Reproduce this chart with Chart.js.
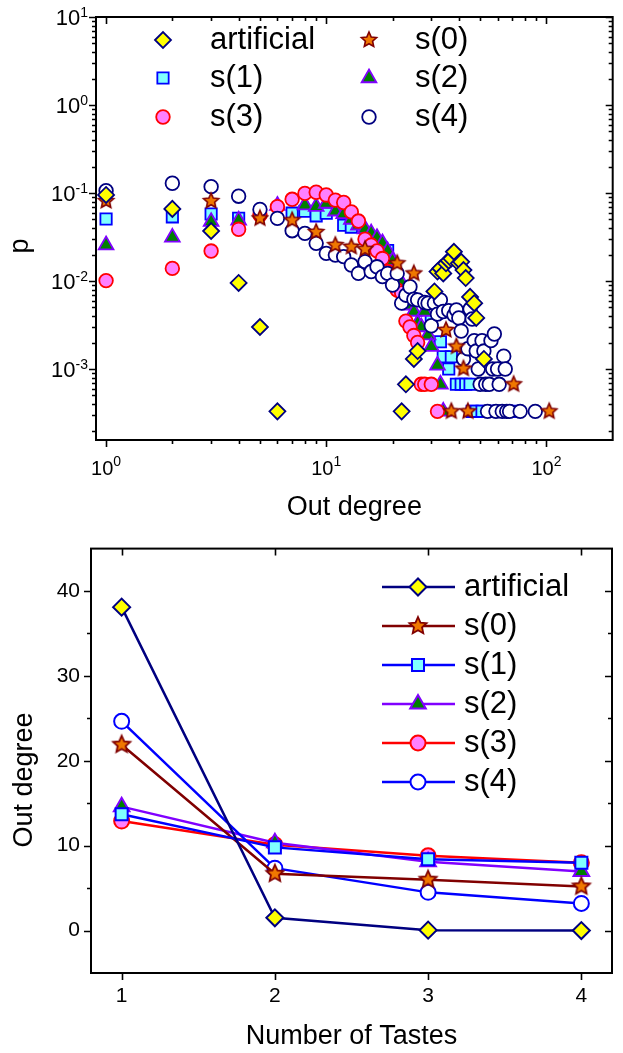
<!DOCTYPE html>
<html lang="en">
<head>
<meta charset="UTF-8">
<title>Out degree distributions</title>
<script src="https://cdn.jsdelivr.net/npm/chart.js@4.4.1/dist/chart.umd.min.js"></script>
<style>
  html, body { margin: 0; padding: 0; background: #fff; }
  body { width: 623px; height: 1053px; position: relative; overflow: hidden; }
  canvas { position: absolute; left: 0; }
  #topChart { top: 0; }
  #bottomChart { top: 525px; }
</style>
</head>
<body>
<canvas id="topChart" width="623" height="525"></canvas>
<canvas id="bottomChart" width="623" height="528"></canvas>
<script>
// ---- top panel: out-degree distribution p(k), log-log ----
const artificialK = [1, 2, 3, 4, 5, 6, 22, 23, 25, 26, 31, 32, 33, 34, 35, 36, 37, 38, 40, 41, 42, 43, 45, 47, 48, 52];
const artificialP = [0.095, 0.066, 0.037, 0.0095, 0.003, 0.00033, 0.00033, 0.00067, 0.0013, 0.0016, 0.0076, 0.0128, 0.0139, 0.0122, 0.0159, 0.017, 0.018, 0.0215, 0.0159, 0.0165, 0.0133, 0.0108, 0.0066, 0.0056, 0.0038, 0.0013];

const s0K = [1, 3, 5, 7, 9, 11, 13, 15, 21, 25, 35, 37, 39, 42, 44, 71, 103];
const s0P = [0.081, 0.081, 0.0515, 0.049, 0.036, 0.0256, 0.0245, 0.023, 0.0159, 0.0122, 0.00277, 0.00033, 0.0018, 0.00101, 0.00033, 0.00067, 0.00033];

const s1K = [1, 2, 3, 4, 7, 8, 9, 10, 12, 13, 19, 30, 33, 34, 36, 37, 39, 41, 43, 45, 46, 48, 51, 55, 59, 62, 66, 70];
const s1P = [0.0507, 0.0536, 0.0577, 0.0515, 0.059, 0.062, 0.055, 0.059, 0.043, 0.041, 0.0222, 0.0038, 0.00204, 0.00138, 0.001, 0.00138, 0.00067, 0.00067, 0.00067, 0.00067, 0.00033, 0.00033, 0.00033, 0.00033, 0.00033, 0.00033, 0.00033, 0.00033];

const s2K = [1, 2, 3, 4, 6, 8, 9, 10, 11, 12, 13, 14, 15, 16, 17, 18, 19, 20, 22, 24, 25, 26, 27, 28, 29, 30, 32, 33, 34];
const s2P = [0.0256, 0.0313, 0.0472, 0.049, 0.072, 0.073, 0.07, 0.076, 0.062, 0.058, 0.05, 0.043, 0.039, 0.035, 0.031, 0.027, 0.022, 0.017, 0.0095, 0.0053, 0.0045, 0.0033, 0.003, 0.0045, 0.00243, 0.0018, 0.0011, 0.00067, 0.00033];

const s3K = [1, 2, 3, 4, 5, 6, 7, 8, 9, 10, 11, 12, 13, 14, 15, 16, 17, 18, 19, 20, 21, 22, 23, 24, 25, 26, 27, 28, 30, 32];
const s3P = [0.0101, 0.0139, 0.0219, 0.0387, 0.0563, 0.07, 0.0848, 0.099, 0.102, 0.095, 0.083, 0.078, 0.061, 0.048, 0.0298, 0.0256, 0.022, 0.018, 0.0128, 0.0112, 0.0079, 0.0073, 0.0035, 0.003, 0.0024, 0.002, 0.00067, 0.00067, 0.00067, 0.00033];

const s4K = [1, 2, 3, 4, 5, 6, 7, 8, 9, 10, 11, 12, 13, 14, 15, 16, 17, 18, 19, 20, 21, 22, 23, 24, 25, 26, 28, 29, 30, 31, 32, 33, 34, 36, 38, 39, 40, 41, 42, 44, 45, 46, 47, 48, 49, 50, 51, 52, 53, 54, 55, 56, 57, 58, 59, 60, 61, 63, 64, 65, 66, 68, 76, 89];
const s4P = [0.106, 0.129, 0.118, 0.092, 0.065, 0.0515, 0.0373, 0.0348, 0.0268, 0.0206, 0.0197, 0.0189, 0.0152, 0.0122, 0.0166, 0.0128, 0.0145, 0.0112, 0.0122, 0.009, 0.0122, 0.0056, 0.0069, 0.0086, 0.0062, 0.0061, 0.0057, 0.0056, 0.0031, 0.0056, 0.0042, 0.0061, 0.0045, 0.0046, 0.0041, 0.0047, 0.0038, 0.0027, 0.0013, 0.0017, 0.0048, 0.0037, 0.0021, 0.0016, 0.001, 0.00067, 0.0021, 0.0016, 0.00067, 0.00033, 0.00067, 0.0021, 0.001, 0.0025, 0.00033, 0.001, 0.00067, 0.00033, 0.0014, 0.001, 0.00033, 0.00033, 0.00033, 0.00033];

const kTickExps = [0, 1, 2];
const pTickExps = [1, 0, -1, -2, -3];

// ---- bottom panel: out degree vs number of tastes ----
const tastes = [1, 2, 3, 4];
const artificialDeg = [38.1, 1.5, 0.05, 0.0];
const s0Deg = [21.9, 6.7, 6.0, 5.2];
const s1Deg = [13.7, 9.8, 8.4, 8.0];
const s2Deg = [14.6, 10.35, 8.1, 6.95];
const s3Deg = [12.9, 10.1, 8.8, 8.0];
const s4Deg = [24.65, 7.35, 4.5, 3.2];

const degTicks = [0, 10, 20, 30, 40];
const degMinor = [5, 15, 25, 35];
const tasteTicks = [1, 2, 3, 4];

const FONT = '"Liberation Sans", Arial, Helvetica, sans-serif';
Chart.defaults.font.family = FONT;
Chart.defaults.color = '#000';

const pts = (xs, ys) => xs.map((x, i) => ({ x: x, y: ys[i] }));

// filled five point star, used as an image point style
function starImage(r, fill, stroke, lw) {
  const pad = 3;
  const c = document.createElement('canvas');
  c.width = c.height = 2 * (r + pad);
  const g = c.getContext('2d');
  const cx = r + pad;
  g.beginPath();
  for (let i = 0; i < 10; i++) {
    const rr = i % 2 ? r * 0.47 : r;
    const a = -Math.PI / 2 + i * Math.PI / 5;
    g.lineTo(cx + rr * Math.cos(a), cx + rr * Math.sin(a));
  }
  g.closePath();
  g.fillStyle = fill;
  g.fill();
  g.lineWidth = lw;
  g.strokeStyle = stroke;
  g.stroke();
  return c;
}

function logMinor(min, max, e0, e1) {
  const out = [];
  for (let e = e0; e <= e1; e++) {
    for (let d = 2; d <= 9; d++) {
      const v = d * Math.pow(10, e);
      if (v > min && v < max) out.push(v);
    }
  }
  return out;
}

function powLabel(ctx, exp, x, base, align, big, small, shift) {
  const sup = String(exp);
  ctx.font = big + 'px ' + FONT;
  const wb = ctx.measureText('10').width;
  ctx.font = small + 'px ' + FONT;
  const ws = ctx.measureText(sup).width;
  const x0 = align === 'right' ? x - wb - ws : x - (wb + ws) / 2;
  ctx.textAlign = 'left';
  ctx.textBaseline = 'alphabetic';
  ctx.font = big + 'px ' + FONT;
  ctx.fillText('10', x0, base);
  ctx.font = small + 'px ' + FONT;
  ctx.fillText(sup, x0 + wb, base - shift);
}

// box frame, inward/outward ticks, log labels, rotated y title
const frameTicks = {
  id: 'frameTicks',
  afterDraw(chart, args, o) {
    const { ctx, chartArea: a } = chart;
    const xs = chart.scales.x, ys = chart.scales.y;
    ctx.save();
    ctx.strokeStyle = '#000';
    ctx.lineWidth = 1.6;
    ctx.beginPath();
    const seg = (x1, y1, x2, y2) => { ctx.moveTo(x1, y1); ctx.lineTo(x2, y2); };
    const xt = (list, len) => list.forEach(v => {
      const p = Math.round(xs.getPixelForValue(v)) + 0.5;
      seg(p, a.bottom, p, a.bottom + len);
      seg(p, a.top, p, a.top + len);
    });
    const yt = (list, len) => list.forEach(v => {
      const p = Math.round(ys.getPixelForValue(v)) + 0.5;
      seg(a.left - len, p, a.left, p);
      seg(a.right - len, p, a.right, p);
    });
    xt(o.xMajor, 7); xt(o.xMinor, 4);
    yt(o.yMajor, 7); yt(o.yMinor, 4);
    ctx.stroke();
    ctx.lineWidth = 2;
    ctx.strokeRect(a.left, a.top, a.right - a.left, a.bottom - a.top);

    ctx.fillStyle = '#000';
    if (o.logLabels) {
      pTickExps.forEach(e => {
        const py = ys.getPixelForValue(Math.pow(10, e));
        powLabel(ctx, e, 88, py + 7.8, 'right', 22, 14, 8);
      });
      kTickExps.forEach(e => {
        const px = xs.getPixelForValue(Math.pow(10, e));
        powLabel(ctx, e, px, 475, 'center', 20, 14, 9);
      });
    }
    if (o.yTitle) {
      ctx.translate(o.yTitle.x, o.yTitle.y);
      ctx.rotate(-Math.PI / 2);
      ctx.textAlign = 'center';
      ctx.textBaseline = 'middle';
      ctx.font = '27px ' + FONT;
      ctx.fillText(o.yTitle.text, 0, 0);
    }
    ctx.restore();
  }
};

// legend drawn inside the plot, markers taken from the datasets
const boxLegend = {
  id: 'boxLegend',
  afterDraw(chart, args, o) {
    const ctx = chart.ctx;
    ctx.save();
    o.items.forEach(it => {
      const ds = chart.data.datasets[it.i];
      if (o.lines) {
        ctx.strokeStyle = ds.borderColor;
        ctx.lineWidth = ds.borderWidth;
        ctx.beginPath();
        ctx.moveTo(it.mx - 36, it.y);
        ctx.lineTo(it.mx + 37, it.y);
        ctx.stroke();
      }
      ctx.fillStyle = ds.backgroundColor;
      ctx.strokeStyle = ds.pointBorderColor || ds.borderColor;
      ctx.lineWidth = ds.pointBorderWidth;
      Chart.helpers.drawPoint(ctx, {
        pointStyle: ds.pointStyle, radius: ds.pointRadius, rotation: 0, borderWidth: ds.pointBorderWidth
      }, it.mx, it.y);
      ctx.fillStyle = '#000';
      ctx.font = '31px ' + FONT;
      ctx.textAlign = 'left';
      ctx.textBaseline = 'middle';
      ctx.fillText(ds.label, it.tx, it.y);
    });
    ctx.restore();
  }
};

const NAVY = '#000080', YELLOW = '#FFFF00', DARKRED = '#800000', ORANGE = '#F07800';
const BLUE = '#0000FF', CYAN = '#80FFFF', PURPLE = '#8000FF', GREEN = '#008000';
const RED = '#FF0000', PINK = '#FF80FF';

// ---------------- top chart ----------------
new Chart(document.getElementById('topChart'), {
  type: 'scatter',
  data: {
    datasets: [
      { label: 'artificial', data: pts(artificialK, artificialP), pointStyle: 'rectRot', pointRadius: 8,
        backgroundColor: YELLOW, borderColor: NAVY, pointBorderWidth: 1.8, order: 0 },
      { label: 's(0)', data: pts(s0K, s0P), pointStyle: starImage(8, ORANGE, DARKRED, 1.6), pointRadius: 8,
        backgroundColor: ORANGE, borderColor: DARKRED, pointBorderWidth: 1.6, order: 1 },
      { label: 's(1)', data: pts(s1K, s1P), pointStyle: 'rect', pointRadius: 8,
        backgroundColor: CYAN, borderColor: BLUE, pointBorderWidth: 1.8, order: 5 },
      { label: 's(2)', data: pts(s2K, s2P), pointStyle: 'triangle', pointRadius: 8.5,
        backgroundColor: GREEN, borderColor: PURPLE, pointBorderWidth: 1.8, order: 4 },
      { label: 's(3)', data: pts(s3K, s3P), pointStyle: 'circle', pointRadius: 6.8,
        backgroundColor: PINK, borderColor: RED, pointBorderWidth: 1.8, order: 3 },
      { label: 's(4)', data: pts(s4K, s4P), pointStyle: 'circle', pointRadius: 6.8,
        backgroundColor: '#FFFFFF', borderColor: NAVY, pointBorderWidth: 1.8, order: 2 }
    ]
  },
  options: {
    responsive: false,
    animation: false,
    devicePixelRatio: 1,
    layout: { padding: { top: 17, right: 7, left: 0, bottom: 0 } },
    plugins: {
      legend: { display: false },
      tooltip: { enabled: false },
      frameTicks: {
        xMajor: kTickExps.map(e => Math.pow(10, e)),
        xMinor: logMinor(0.9, 200, 0, 2),
        yMajor: pTickExps.map(e => Math.pow(10, e)),
        yMinor: logMinor(1.56e-4, 10, -4, 0),
        logLabels: true,
        yTitle: { text: 'p', x: 21, y: 246 }
      },
      boxLegend: {
        items: [
          { i: 0, mx: 163, tx: 210, y: 40 }, { i: 1, mx: 369, tx: 415, y: 40 },
          { i: 2, mx: 163, tx: 210, y: 78 }, { i: 3, mx: 369, tx: 415, y: 78 },
          { i: 4, mx: 163, tx: 210, y: 117 }, { i: 5, mx: 369, tx: 415, y: 117 }
        ]
      }
    },
    scales: {
      x: {
        type: 'logarithmic', min: 0.9, max: 200,
        grid: { display: false, drawTicks: false }, border: { display: false },
        ticks: { display: false },
        title: { display: true, text: 'Out degree', font: { size: 27 }, padding: { top: 0, bottom: 1 } },
        afterFit: s => { s.height = 85; }
      },
      y: {
        type: 'logarithmic', min: 1.56e-4, max: 10,
        grid: { display: false, drawTicks: false }, border: { display: false },
        ticks: { display: false },
        afterFit: s => { s.width = 96; }
      }
    }
  },
  plugins: [frameTicks, boxLegend]
});

// ---------------- bottom chart ----------------
new Chart(document.getElementById('bottomChart'), {
  type: 'line',
  data: {
    datasets: [
      { label: 'artificial', data: pts(tastes, artificialDeg), pointStyle: 'rectRot', pointRadius: 8.5,
        backgroundColor: YELLOW, borderColor: NAVY, borderWidth: 2.5, pointBorderWidth: 2, order: 0 },
      { label: 's(0)', data: pts(tastes, s0Deg), pointStyle: starImage(9, ORANGE, DARKRED, 1.8), pointRadius: 9,
        backgroundColor: ORANGE, borderColor: DARKRED, borderWidth: 2.5, pointBorderWidth: 1.8, order: 2 },
      { label: 's(1)', data: pts(tastes, s1Deg), pointStyle: 'rect', pointRadius: 8.5,
        backgroundColor: CYAN, borderColor: BLUE, borderWidth: 2.5, pointBorderWidth: 2, order: 1 },
      { label: 's(2)', data: pts(tastes, s2Deg), pointStyle: 'triangle', pointRadius: 9,
        backgroundColor: GREEN, borderColor: PURPLE, borderWidth: 2.5, pointBorderWidth: 2, order: 4 },
      { label: 's(3)', data: pts(tastes, s3Deg), pointStyle: 'circle', pointRadius: 7.5,
        backgroundColor: PINK, borderColor: RED, borderWidth: 2.5, pointBorderWidth: 2, order: 5 },
      { label: 's(4)', data: pts(tastes, s4Deg), pointStyle: 'circle', pointRadius: 7.5,
        backgroundColor: '#FFFFFF', borderColor: BLUE, borderWidth: 2.5, pointBorderWidth: 2, order: 3 }
    ]
  },
  options: {
    responsive: false,
    animation: false,
    devicePixelRatio: 1,
    layout: { padding: { top: 22, right: 6, left: 0, bottom: 0 } },
    plugins: {
      legend: { display: false },
      tooltip: { enabled: false },
      frameTicks: {
        xMajor: tasteTicks, xMinor: [],
        yMajor: degTicks, yMinor: degMinor,
        yTitle: { text: 'Out degree', x: 25, y: 255 }
      },
      boxLegend: {
        lines: true,
        items: [
          { i: 0, mx: 418, tx: 464, y: 62 }, { i: 1, mx: 418, tx: 464, y: 101 },
          { i: 2, mx: 418, tx: 464, y: 140 }, { i: 3, mx: 418, tx: 464, y: 179 },
          { i: 4, mx: 418, tx: 464, y: 218 }, { i: 5, mx: 418, tx: 464, y: 257 }
        ]
      }
    },
    scales: {
      x: {
        type: 'linear', min: 0.8, max: 4.2,
        grid: { display: false, drawTicks: false }, border: { display: false },
        afterBuildTicks: s => { s.ticks = tasteTicks.map(v => ({ value: v })); },
        ticks: { font: { size: 21 }, padding: 11, maxRotation: 0 },
        title: { display: true, text: 'Number of Tastes', font: { size: 27 }, padding: { top: 0, bottom: 0 } },
        afterFit: s => { s.height = 80; }
      },
      y: {
        type: 'linear', min: -5, max: 45,
        grid: { display: false, drawTicks: false }, border: { display: false },
        afterBuildTicks: s => { s.ticks = degTicks.map(v => ({ value: v })); },
        ticks: { font: { size: 21 }, padding: 11 },
        afterFit: s => { s.width = 91; }
      }
    }
  },
  plugins: [frameTicks, boxLegend]
});
</script>
</body>
</html>
